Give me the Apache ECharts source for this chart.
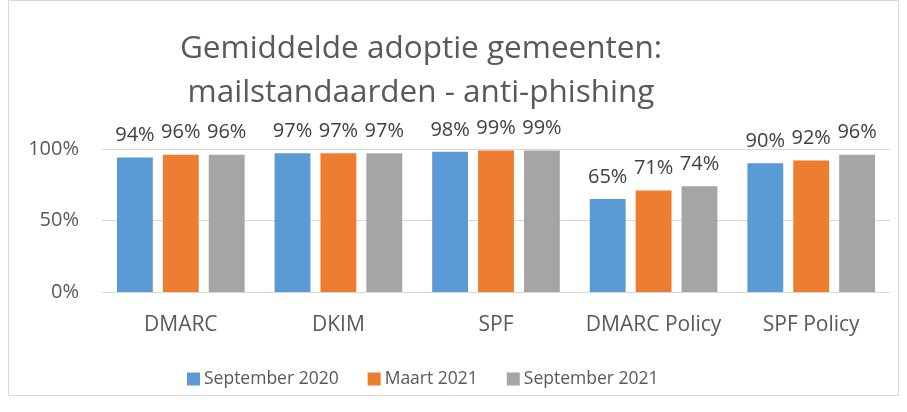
<!DOCTYPE html>
<html><head><meta charset="utf-8">
<script src="https://cdn.jsdelivr.net/npm/echarts@6/dist/echarts.min.js"></script>
<style>html,body{margin:0;padding:0;background:#fff}#c{width:907px;height:412px}</style>
</head><body><div id="c"></div>
<script>
const categories = ['DMARC', 'DKIM', 'SPF', 'DMARC Policy', 'SPF Policy'];
const seriesNames = ['September 2020', 'Maart 2021', 'September 2021'];
const sep2020 = [94, 97, 98, 65, 90];
const mrt2021 = [96, 97, 99, 71, 92];
const sep2021 = [96, 97, 99, 74, 96];
const yTicks = [0, 50, 100];
const colors = ['#5b9bd5', '#ed7d31', '#a5a5a5'];
const font = '"Open Sans", "Noto Sans", sans-serif';

const chart = echarts.init(document.getElementById('c'));
const mk = (name, data, i) => ({
  name, type: 'bar', data,
  itemStyle: { color: colors[i] },
  barGap: '28%', barCategoryGap: '19%',
  label: { show: true, position: 'top', distance: 12, formatter: '{c}%', fontFamily: font, fontSize: 20, color: '#404040' }
});
chart.setOption({
  animation: false,
  graphic: [{ type: 'rect', shape: { x: 8.5, y: 0.5, width: 890, height: 395 }, style: { fill: 'none', stroke: '#d9d9d9', lineWidth: 1 } }],
  title: {
    text: 'Gemiddelde adoptie gemeenten:\nmailstandaarden - anti-phishing',
    left: 416, top: 22, textAlign: 'center',
    textStyle: { fontFamily: font, fontWeight: 'normal', fontSize: 31.5, lineHeight: 44, color: '#595959' }
  },
  legend: {
    data: seriesNames, top: 365, left: 182, itemWidth: 13, itemHeight: 13, itemGap: 29,
    icon: 'rect', textStyle: { fontFamily: font, fontSize: 17.5, color: '#595959', padding: [0, 0, 0, -1] }
  },
  grid: { left: 102, right: 17, top: 149, bottom: 120, containLabel: false },
  xAxis: {
    type: 'category', data: categories,
    axisLine: { show: true, lineStyle: { color: '#d9d9d9' } }, axisTick: { show: false },
    axisLabel: { interval: 0, hideOverlap: false, fontFamily: font, fontSize: 21, color: '#595959', margin: 23 }
  },
  yAxis: {
    type: 'value', min: 0, max: 100, interval: 50,
    axisLabel: { formatter: v => yTicks.includes(v) ? v + '%' : '', fontFamily: font, fontSize: 20, color: '#595959', margin: 23 },
    axisLine: { show: false }, axisTick: { show: false },
    splitLine: { lineStyle: { color: '#d9d9d9' } }
  },
  series: [mk(seriesNames[0], sep2020, 0), mk(seriesNames[1], mrt2021, 1), mk(seriesNames[2], sep2021, 2)]
});
</script></body></html>
